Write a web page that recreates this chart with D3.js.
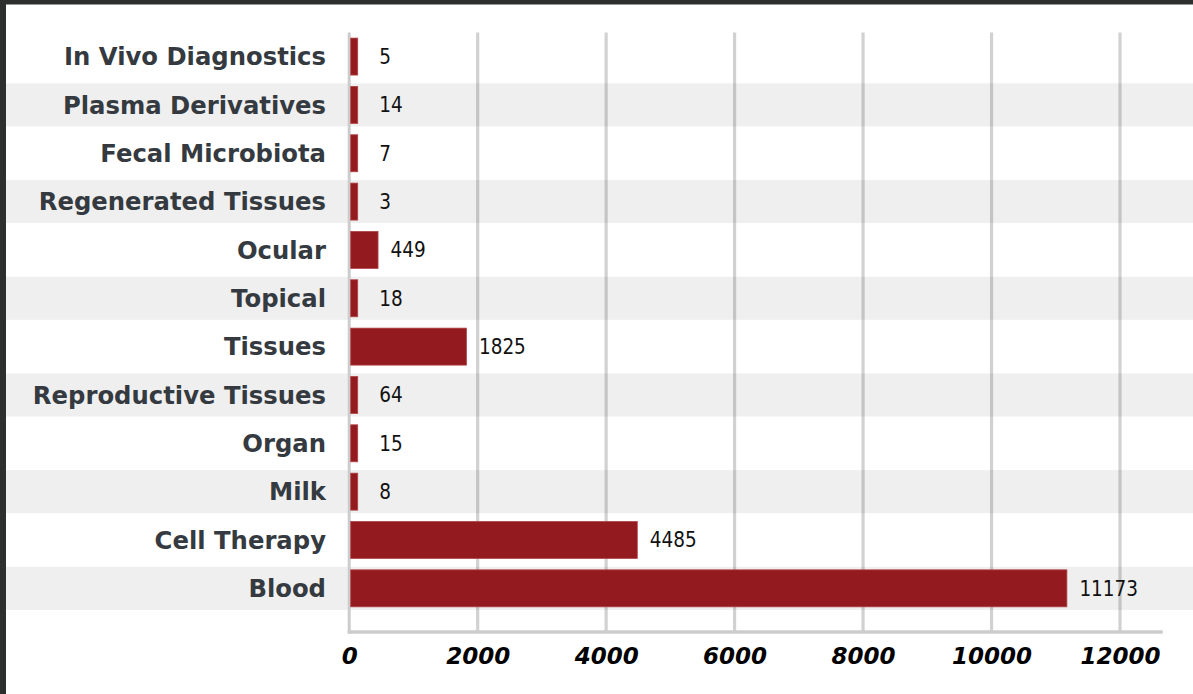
<!DOCTYPE html>
<html>
<head>
<meta charset="utf-8">
<script src="https://cdn.jsdelivr.net/npm/d3@7"></script>
<style>
  html, body { margin: 0; padding: 0; background: #ffffff; }
  svg { display: block; }
</style>
</head>
<body>
<div id="chart"></div>
<script>
// Product categories, listed top to bottom
const categories = [
  "In Vivo Diagnostics", "Plasma Derivatives", "Fecal Microbiota",
  "Regenerated Tissues", "Ocular", "Topical", "Tissues",
  "Reproductive Tissues", "Organ", "Milk", "Cell Therapy", "Blood"
];
// Count per category
const values = [5, 14, 7, 3, 449, 18, 1825, 64, 15, 8, 4485, 11173];
// Axis ticks
const xTicks = [0, 2000, 4000, 6000, 8000, 10000, 12000];

(function () {
  const W = 1193, H = 694;
  const svg = d3.select("#chart").append("svg")
    .attr("width", W).attr("height", H);

  // Frame edges
  svg.append("rect").attr("x", 0).attr("y", 0).attr("width", W).attr("height", 4.5).attr("fill", "#2d2f2e");
  svg.append("rect").attr("x", 0).attr("y", 0).attr("width", 6).attr("height", H).attr("fill", "#2d2f2e");

  const x = d3.scaleLinear().domain([0, 12000]).range([349.2, 1120]);
  const plotTop = 32.4, plotBottom = 612.5, axisY = 632;

  const rows = d3.scaleBand().domain(categories).range([plotTop, plotBottom]).paddingInner(0).paddingOuter(0);
  const stripe = d3.scaleBand().domain(categories).range([plotTop, plotBottom]).paddingInner(0.11).paddingOuter(0.055);
  const barY = d3.scaleBand().domain(categories).range([plotTop, plotBottom]).paddingInner(0.235).paddingOuter(0.1175);

  const data = categories.map((c, i) => ({ cat: c, value: values[i], i }));

  // Alternating row stripes
  svg.append("g").selectAll("rect")
    .data(data.filter(d => d.i % 2 === 1))
    .join("rect")
    .attr("x", 6).attr("width", W - 6)
    .attr("y", d => stripe(d.cat)).attr("height", stripe.bandwidth())
    .attr("fill", "#efefef");

  // Vertical gridlines
  svg.append("g").selectAll("line")
    .data(xTicks.slice(1))
    .join("line")
    .attr("x1", d => x(d)).attr("x2", d => x(d))
    .attr("y1", plotTop).attr("y2", axisY)
    .attr("stroke", "rgba(0,0,0,0.18)").attr("stroke-width", 3.2);

  // Baseline and zero line
  svg.append("line")
    .attr("x1", x(0) - 1.5).attr("x2", 1162.7)
    .attr("y1", axisY).attr("y2", axisY)
    .attr("stroke", "#cccccc").attr("stroke-width", 3.5);
  svg.append("line")
    .attr("x1", x(0)).attr("x2", x(0))
    .attr("y1", plotTop).attr("y2", axisY + 1.75)
    .attr("stroke", "#cccccc").attr("stroke-width", 3);

  // Bars, with a small minimum width so tiny counts stay visible
  const barStart = x(0) + 1.5;
  const barEnd = d => Math.max(x(d.value), barStart + 7);
  svg.append("g").selectAll("rect")
    .data(data)
    .join("rect")
    .attr("x", barStart)
    .attr("width", d => barEnd(d) - barStart)
    .attr("y", d => barY(d.cat)).attr("height", barY.bandwidth())
    .attr("fill", "#931b1f")
    .attr("stroke", "#b04448").attr("stroke-width", 0.8);

  // Value labels
  svg.append("g").selectAll("text")
    .data(data)
    .join("text")
    .attr("x", d => Math.max(barEnd(d) + 12.5, x(0) + 30))
    .attr("y", d => rows(d.cat) + rows.bandwidth() / 2)
    .attr("dy", "0.36em")
    .attr("font-family", "Tahoma, 'DejaVu Sans Condensed', sans-serif")
    .attr("font-size", 20.5)
    .attr("fill", "#111111")
    .text(d => d.value);

  // Category labels
  svg.append("g").selectAll("text")
    .data(data)
    .join("text")
    .attr("x", 326)
    .attr("y", d => rows(d.cat) + rows.bandwidth() / 2)
    .attr("dy", "0.36em")
    .attr("text-anchor", "end")
    .attr("font-family", "'DejaVu Sans', Verdana, sans-serif")
    .attr("font-weight", "bold")
    .attr("font-size", 24.3)
    .attr("fill", "#343a40")
    .text(d => d.cat);

  // X axis tick labels
  const xAxis = d3.axisBottom(x).tickValues(xTicks).tickSize(0).tickPadding(0).tickFormat(d3.format("d"));
  const gx = svg.append("g").attr("transform", `translate(0, ${axisY + 16})`).call(xAxis);
  gx.select(".domain").remove();
  gx.selectAll("text")
    .attr("font-family", "'DejaVu Sans', Verdana, sans-serif")
    .attr("font-weight", "bold")
    .attr("font-style", "italic")
    .attr("font-size", 23)
    .attr("fill", "#000000")
    .attr("dy", "0.71em");
})();
</script>
</body>
</html>
